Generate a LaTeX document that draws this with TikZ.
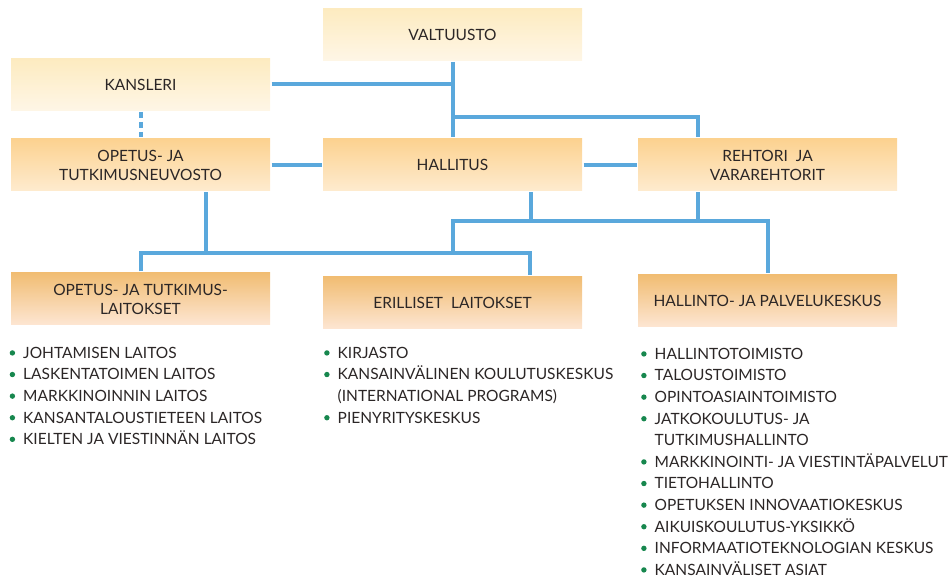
\documentclass[tikz,border=0pt]{standalone}
\usepackage{fontspec}
\setmainfont{Lato}

\definecolor{linkblue}{HTML}{5AA8DC}
\definecolor{dotgreen}{HTML}{17874E}
\definecolor{inkgray}{HTML}{2B2626}
\definecolor{paletop}{HTML}{FDEBC0}
\definecolor{palebot}{HTML}{FEF6E6}
\definecolor{midtop}{HTML}{FCD290}
\definecolor{midbot}{HTML}{FEEBCF}
\definecolor{deeptop}{HTML}{F1BD73}
\definecolor{deepbot}{HTML}{FDE6D3}

\newcommand{\bul}{\makebox[13.5pt][l]{\tikz[baseline=0pt]\fill[dotgreen] (2.7pt,5.3pt) circle (2.7pt);}}
\newcommand{\nobul}{\hspace*{13.5pt}}

\tikzset{
  box/.style={minimum width=259pt, minimum height=52pt, inner sep=0pt, outer sep=1.5pt,
    align=center, text=inkgray, font=\fontsize{15.5}{19}\selectfont},
  palebox/.style={box, top color=paletop, bottom color=palebot},
  midbox/.style={box, top color=midtop, bottom color=midbot},
  deepbox/.style={box, top color=deeptop, bottom color=deepbot},
  link/.style={draw=linkblue, line width=4pt},
  itemlist/.style={anchor=north west, inner sep=0pt, align=left, text=inkgray,
    font=\fontsize{15.5}{21.6}\selectfont}
}

\begin{document}
\begin{tikzpicture}[x=1pt,y=-1pt]
	\useasboundingbox (0,0) rectangle (951,577);
	% top rows
	\node[palebox] (valtuusto) at (452.5,34.5) {VALTUUSTO};
	\node[palebox] (kansleri) at (140.5,84.5) {KANSLERI};
	\node[midbox] (neuvosto) at (140.5,165) {OPETUS- JA\\TUTKIMUSNEUVOSTO};
	\node[midbox] (hallitus) at (452.5,165) {HALLITUS};
	\node[midbox] (rehtori) at (767.5,165) {REHTORI\ \ JA\\VARAREHTORIT};
	% bottom row
	\node[deepbox] (laitokset) at (140.5,299) {OPETUS- JA TUTKIMUS-\\LAITOKSET};
	\node[deepbox] (erilliset) at (452.5,303) {ERILLISET\ \ LAITOKSET};
	\node[deepbox] (palvelu) at (767.5,301) {HALLINTO- JA PALVELUKESKUS};
	% junctions
	\coordinate (t1) at (453,117);
	\coordinate (b2) at (453,221);
	\coordinate (b1) at (453,253);
	% connectors
	\draw[link] (valtuusto) -- (hallitus);
	\draw[link] (kansleri) -- (kansleri -| valtuusto);
	\draw[link] (t1) -| ([xshift=-69.5pt]rehtori.north);
	\draw[link,dash pattern=on 6pt off 4pt] (kansleri) -- (neuvosto);
	\draw[link] (neuvosto) -- (hallitus);
	\draw[link] (hallitus) -- (rehtori);
	\draw[link] ([xshift=65.5pt]neuvosto.south) -- ([xshift=65.5pt]neuvosto.south |- b1);
	\draw[link] (laitokset.north) |- ([xshift=77.5pt]erilliset.north |- b1) -- ([xshift=77.5pt]erilliset.north);
	\draw[link] (b1) |- (palvelu.north |- b2) -- (palvelu.north);
	\draw[link] ([xshift=78.5pt]hallitus.south) -- ([xshift=78.5pt]hallitus.south |- b2);
	\draw[link] ([xshift=-69.5pt]rehtori.south) -- ([xshift=-69.5pt]rehtori.south |- b2);
	% lists
	\node[itemlist] (laitoslista) at (9.5,346.8) {\bul JOHTAMISEN LAITOS\\
		\bul LASKENTATOIMEN LAITOS\\
		\bul MARKKINOINNIN LAITOS\\
		\bul KANSANTALOUSTIETEEN LAITOS\\
		\bul KIELTEN JA VIESTINNÄN LAITOS};
	\node[itemlist] (erillislista) at (324,346.8) {\bul KIRJASTO\\
		\bul KANSAINVÄLINEN KOULUTUSKESKUS\\
		\nobul (INTERNATIONAL PROGRAMS)\\
		\bul PIENYRITYSKESKUS};
	\node[itemlist] (palvelulista) at (641,347.8) {\bul HALLINTOTOIMISTO\\
		\bul TALOUSTOIMISTO\\
		\bul OPINTOASIAINTOIMISTO\\
		\bul JATKOKOULUTUS- JA\\
		\nobul TUTKIMUSHALLINTO\\
		\bul MARKKINOINTI- JA VIESTINTÄPALVELUT\\
		\bul TIETOHALLINTO\\
		\bul OPETUKSEN INNOVAATIOKESKUS\\
		\bul AIKUISKOULUTUS-YKSIKKÖ\\
		\bul INFORMAATIOTEKNOLOGIAN KESKUS\\
		\bul KANSAINVÄLISET ASIAT};
\end{tikzpicture}
\end{document}
